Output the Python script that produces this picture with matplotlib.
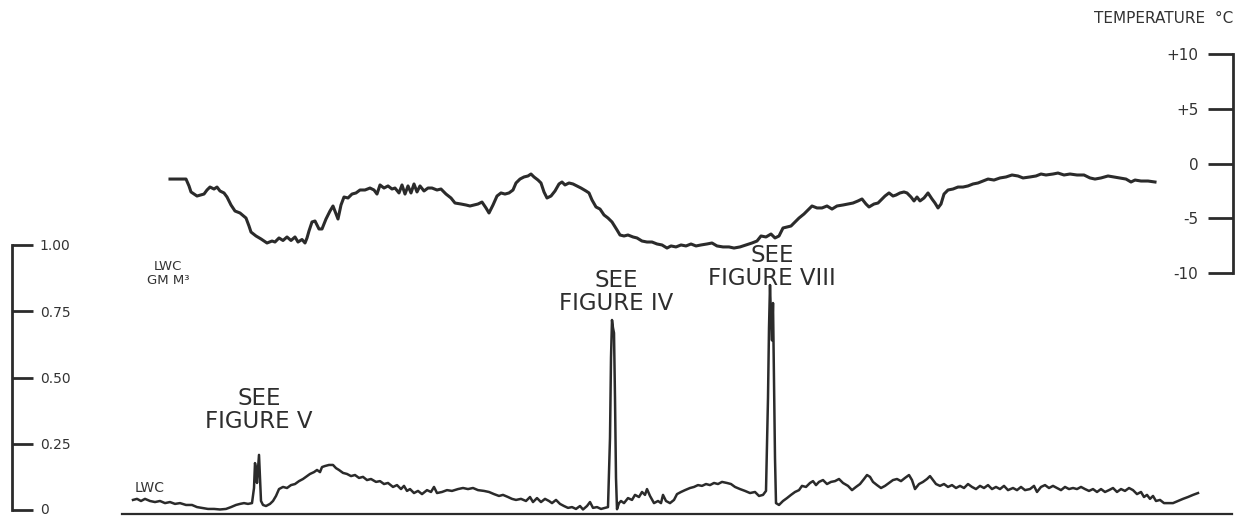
import numpy as np
import matplotlib
matplotlib.use("Agg")
import matplotlib.pyplot as plt
from matplotlib.transforms import ScaledTranslation

plt.rcParams["font.family"] = ["DejaVu Sans"]

INK = "#2b2b2b"

# ------------------------------------------------------------
# Temperature trace (deg C) along the flight track
# ------------------------------------------------------------
temp_x = [
    50, 66, 69, 71, 77, 84, 87, 90, 94, 97, 100, 104, 107, 111, 115, 120,
    126, 129, 131, 136, 141, 147, 152, 155, 159, 163, 167, 171, 175, 178,
    182, 185, 187, 189, 192, 195, 199, 202, 206, 210, 213, 216, 218, 221,
    224, 228, 232, 236, 240, 245, 250, 254, 257, 260, 264, 268, 272, 275,
    279, 282, 285, 288, 291, 294, 297, 300, 304, 308, 312, 317, 321, 326,
    331, 335, 341, 346, 350, 354, 358, 362, 366, 369, 373, 377, 381, 385,
    389, 393, 396, 400, 404, 408, 411, 414, 418, 421, 424, 427, 431, 435,
    439, 442, 445, 449, 453, 457, 461, 466, 469, 472, 476, 480, 484, 488,
    492, 497, 500, 504, 508, 513, 517, 522, 527, 532, 537, 542, 547, 551,
    556, 561, 566, 571, 576, 581, 587, 592, 597, 603, 609, 614, 620, 626,
    632, 637, 641, 646, 651, 655, 659, 663, 667, 671, 675, 679, 684, 688,
    692, 697, 702, 707, 712, 717, 723, 728, 733, 738, 742, 746, 749, 754,
    758, 761, 765, 769, 773, 776, 780, 784, 787, 791, 794, 797, 800, 804,
    808, 812, 815, 818, 821, 824, 828, 833, 838, 843, 848, 853, 858, 863,
    868, 874, 880, 886, 892, 898, 903, 910, 916, 921, 926, 933, 938, 944,
    950, 957, 964, 970, 975, 981, 988, 994, 1000, 1006, 1011, 1015, 1021,
    1028, 1035,
]
temp_c = [
    -1.42, -1.42, -2.05, -2.60, -2.97, -2.79, -2.42, -2.15, -2.33, -2.15,
    -2.51, -2.69, -3.06, -3.79, -4.34, -4.52, -4.98, -5.71, -6.26, -6.62,
    -6.89, -7.26, -7.08, -7.17, -6.80, -7.03, -6.71, -7.03, -6.71, -7.17,
    -6.94, -7.26, -6.80, -6.16, -5.34, -5.25, -5.98, -5.98, -5.07, -4.34,
    -3.88, -4.61, -5.07, -3.79, -3.06, -3.15, -2.79, -2.69, -2.42, -2.42,
    -2.24, -2.42, -2.79, -1.96, -2.24, -2.05, -2.33, -2.24, -2.69, -1.96,
    -2.79, -2.05, -2.69, -1.87, -2.60, -2.05, -2.51, -2.24, -2.24, -2.42,
    -2.33, -2.79, -3.15, -3.61, -3.70, -3.79, -3.88, -3.79, -3.70, -3.52,
    -4.06, -4.52, -3.79, -2.97, -2.69, -2.79, -2.69, -2.42, -1.78, -1.42,
    -1.23, -1.14, -0.96, -1.23, -1.51, -1.78, -2.60, -3.15, -2.97, -2.51,
    -1.87, -1.69, -1.96, -1.78, -1.87, -2.05, -2.24, -2.51, -2.69, -3.33,
    -3.97, -4.16, -4.70, -4.98, -5.34, -6.07, -6.53, -6.62, -6.53, -6.71,
    -6.80, -7.08, -7.17, -7.17, -7.35, -7.44, -7.72, -7.53, -7.62, -7.44,
    -7.53, -7.35, -7.53, -7.44, -7.35, -7.26, -7.53, -7.62, -7.62, -7.72,
    -7.62, -7.44, -7.26, -7.08, -6.62, -6.71, -6.44, -6.80, -6.62, -5.89,
    -5.80, -5.71, -5.34, -4.98, -4.61, -4.25, -3.88, -4.06, -4.06, -3.88,
    -4.16, -3.88, -3.79, -3.70, -3.61, -3.42, -3.24, -3.70, -3.97, -3.70,
    -3.61, -3.33, -2.97, -2.69, -2.97, -2.88, -2.69, -2.60, -2.69, -3.06,
    -3.42, -3.06, -3.42, -3.15, -2.69, -3.24, -3.61, -4.06, -3.70, -2.79,
    -2.42, -2.33, -2.15, -2.15, -2.05, -1.87, -1.78, -1.60, -1.42, -1.51,
    -1.32, -1.23, -1.05, -1.14, -1.32, -1.23, -1.14, -0.96, -1.05, -0.96,
    -0.87, -1.05, -0.96, -1.05, -1.05, -1.32, -1.42, -1.32, -1.14, -1.23,
    -1.32, -1.42, -1.69, -1.51, -1.60, -1.60, -1.69,
]

# ------------------------------------------------------------
# Liquid water content trace (g/m3)
# ------------------------------------------------------------
lwc_x = [
    13, 17, 21, 25, 30, 35, 40, 45, 50, 55, 60, 66, 72, 77, 82, 88, 94, 100,
    106, 111, 116, 120, 124, 128, 132, 134, 135, 136, 137, 138, 139, 140,
    141, 143, 146, 150, 153, 156, 159, 163, 167, 171, 175, 179, 183, 186,
    190, 194, 197, 200, 202, 205, 209, 213, 216, 219, 223, 227, 231, 235,
    239, 243, 247, 251, 256, 260, 264, 268, 273, 277, 281, 284, 287, 290,
    294, 298, 302, 307, 311, 314, 317, 322, 327, 332, 338, 343, 348, 353,
    358, 364, 369, 374, 379, 383, 388, 392, 396, 401, 406, 410, 413, 417,
    421, 425, 429, 432, 436, 440, 444, 448, 452, 456, 460, 463, 467, 470,
    473, 477, 481, 485, 488, 490, 491, 492, 493, 494, 495, 496, 497, 499,
    501, 504, 508, 512, 515, 519, 522, 525, 527, 530, 534, 538, 541, 543,
    546, 550, 554, 557, 561, 565, 570, 574, 578, 582, 586, 590, 594, 598,
    602, 607, 611, 615, 620, 625, 630, 635, 639, 643, 646, 648, 649, 650,
    651, 652, 653, 654, 655, 656, 659, 663, 667, 671, 675, 679, 682, 686,
    690, 693, 696, 699, 703, 707, 711, 715, 719, 723, 728, 732, 736, 740,
    744, 747, 750, 753, 757, 761, 765, 769, 773, 777, 781, 785, 789, 792,
    795, 799, 803, 807, 810, 813, 816, 820, 824, 828, 832, 836, 840, 844,
    848, 852, 856, 860, 864, 868, 872, 876, 880, 884, 888, 893, 897, 901,
    905, 910, 914, 917, 921, 925, 929, 933, 937, 941, 945, 949, 953, 957,
    961, 965, 969, 973, 977, 981, 985, 989, 993, 997, 1001, 1005, 1009,
    1013, 1017, 1021, 1024, 1027, 1030, 1033, 1036, 1040, 1044, 1048, 1053,
    1058, 1063, 1068, 1073, 1078,
]
lwc_gm3 = [
    0.038, 0.042, 0.034, 0.042, 0.034, 0.030, 0.034, 0.026, 0.030, 0.023,
    0.026, 0.019, 0.019, 0.011, 0.008, 0.004, 0.004, 0.002, 0.004, 0.011,
    0.019, 0.023, 0.026, 0.023, 0.026, 0.083, 0.177, 0.158, 0.102, 0.158,
    0.208, 0.121, 0.034, 0.019, 0.015, 0.023, 0.034, 0.053, 0.079, 0.087,
    0.083, 0.094, 0.098, 0.109, 0.117, 0.125, 0.136, 0.143, 0.151, 0.143,
    0.162, 0.166, 0.170, 0.170, 0.158, 0.151, 0.140, 0.136, 0.128, 0.132,
    0.121, 0.125, 0.113, 0.117, 0.106, 0.109, 0.098, 0.102, 0.087, 0.094,
    0.079, 0.091, 0.072, 0.079, 0.064, 0.072, 0.060, 0.075, 0.068, 0.087,
    0.064, 0.068, 0.075, 0.072, 0.079, 0.083, 0.079, 0.083, 0.075, 0.072,
    0.068, 0.060, 0.053, 0.057, 0.049, 0.042, 0.038, 0.042, 0.034, 0.049,
    0.030, 0.045, 0.030, 0.042, 0.034, 0.026, 0.038, 0.023, 0.015, 0.008,
    0.011, 0.004, 0.015, 0.002, 0.015, 0.030, 0.008, 0.011, 0.004, 0.008,
    0.011, 0.272, 0.574, 0.717, 0.687, 0.668, 0.423, 0.121, 0.003, 0.026,
    0.034, 0.026, 0.045, 0.038, 0.057, 0.049, 0.068, 0.057, 0.079, 0.053,
    0.026, 0.034, 0.026, 0.057, 0.034, 0.026, 0.038, 0.060, 0.068, 0.075,
    0.083, 0.087, 0.094, 0.091, 0.098, 0.094, 0.102, 0.098, 0.106, 0.102,
    0.098, 0.087, 0.079, 0.072, 0.064, 0.068, 0.053, 0.057, 0.072, 0.423,
    0.687, 0.849, 0.725, 0.640, 0.781, 0.498, 0.196, 0.026, 0.019, 0.034,
    0.045, 0.057, 0.068, 0.075, 0.091, 0.087, 0.102, 0.109, 0.094, 0.106,
    0.113, 0.098, 0.106, 0.109, 0.117, 0.102, 0.091, 0.075, 0.087, 0.098,
    0.117, 0.132, 0.125, 0.106, 0.094, 0.083, 0.091, 0.102, 0.113, 0.117,
    0.109, 0.121, 0.132, 0.113, 0.079, 0.098, 0.106, 0.117, 0.128, 0.113,
    0.098, 0.091, 0.098, 0.087, 0.094, 0.083, 0.091, 0.083, 0.098, 0.087,
    0.079, 0.091, 0.083, 0.094, 0.079, 0.087, 0.079, 0.091, 0.075, 0.083,
    0.075, 0.087, 0.075, 0.079, 0.091, 0.068, 0.087, 0.094, 0.083, 0.091,
    0.083, 0.075, 0.087, 0.079, 0.083, 0.079, 0.087, 0.079, 0.072, 0.079,
    0.068, 0.079, 0.068, 0.075, 0.083, 0.068, 0.079, 0.072, 0.083, 0.075,
    0.060, 0.068, 0.049, 0.057, 0.042, 0.053, 0.034, 0.038, 0.026, 0.026,
    0.026, 0.034, 0.042, 0.049, 0.057, 0.064,
]

lwc_ticks = [0, 0.25, 0.50, 0.75, 1.00]
lwc_tick_labels = ["0", "0.25", "0.50", "0.75", "1.00"]
temp_ticks = [-10, -5, 0, 5, 10]
temp_tick_labels = ["-10", "-5", "0", "+5", "+10"]

# callouts: (label, track position, lwc level of the text bottom)
callouts = [
    ("SEE\nFIGURE V", 139, 0.292),
    ("SEE\nFIGURE IV", 496, 0.737),
    ("SEE\nFIGURE VIII", 652, 0.830),
]

# ============================================================
# Figure
# ============================================================
fig = plt.figure(figsize=(12.46, 5.18), dpi=100)
ax = fig.add_axes([0, 0, 1, 1])
ax.set_xlim(-120, 1126)
ax.set_ylim(-8 / 265, 510 / 265)

ax2 = ax.twinx()
ax2.set_ylim((163.5 - 518) / 10.95, 163.5 / 10.95)

# LWC axis on the left, ticks pointing inward with labels beside them
for side in ["top", "right"]:
    ax.spines[side].set_visible(False)
ax.spines["left"].set_position(("data", -108))
ax.spines["left"].set_bounds(0, 1)
ax.spines["left"].set_linewidth(2.0)
ax.spines["left"].set_color(INK)
ax.spines["bottom"].set_position(("data", -0.014))
ax.spines["bottom"].set_bounds(2, 1112)
ax.spines["bottom"].set_linewidth(1.6)
ax.spines["bottom"].set_color(INK)
ax.set_xticks([])
ax.set_yticks(lwc_ticks)
ax.set_yticklabels(lwc_tick_labels)
ax.tick_params(axis="y", direction="in", length=15, width=2.0, color=INK,
               pad=-20, labelsize=10, labelcolor="#333333")
lwc_labels = ax.get_yticklabels()
plt.setp(lwc_labels, ha="left")
# lift the bottom "0" a touch so it stays clear of the lower edge
lwc_labels[0].set_transform(lwc_labels[0].get_transform()
                            + ScaledTranslation(0, 2 / 100, fig.dpi_scale_trans))

# temperature axis on the right
for side in ["top", "left", "bottom"]:
    ax2.spines[side].set_visible(False)
ax2.spines["right"].set_position(("data", 1113))
ax2.spines["right"].set_bounds(-10, 10)
ax2.spines["right"].set_linewidth(2.0)
ax2.spines["right"].set_color(INK)
ax2.set_yticks(temp_ticks)
ax2.set_yticklabels(temp_tick_labels)
ax2.tick_params(axis="y", direction="in", length=18, width=2.0, color=INK,
                pad=-25, labelsize=11, labelcolor="#333333")
plt.setp(ax2.get_yticklabels(), ha="right")

# traces
ax2.plot(temp_x, temp_c, color=INK, linewidth=2.2, solid_joinstyle="round")
ax.plot(lwc_x, lwc_gm3, color=INK, linewidth=1.8, solid_joinstyle="round")

# labels
ax.text(48, 0.841, "LWC\nGM M³", ha="center", va="bottom", fontsize=9.5,
        linespacing=1.15, color="#333333")
ax.text(15, 0.068, "LWC", ha="left", va="baseline", fontsize=10, color="#333333")
ax2.text(1113, 12.83, "TEMPERATURE  °C", ha="right", va="baseline",
         fontsize=11, color="#333333")

for label, pos, level in callouts:
    ax.text(pos, level, label, ha="center", va="bottom", fontsize=16.5,
            linespacing=1.0, color="#2e2e2e")

fig.savefig("out.png", dpi=100)
